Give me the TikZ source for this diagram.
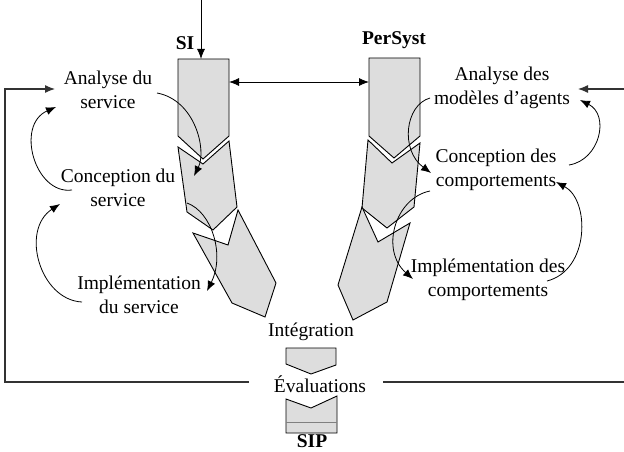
\documentclass[tikz,border=0pt]{standalone}
\usepackage{fontspec}
\setmainfont{Liberation Serif}
\usetikzlibrary{arrows.meta,positioning}
\definecolor{blockfill}{RGB}{221,221,221}

\begin{document}
\begin{tikzpicture}[x=1pt,y=-1pt,>={Latex[length=10pt,width=8pt]},
 font=\fontsize{19.5}{24}\selectfont,
 lbl/.style={align=center,inner sep=0pt},
 ttl/.style={inner sep=0pt,font=\fontsize{19.5}{24}\selectfont\bfseries},
 block/.style={draw,fill=blockfill,line width=0.9pt},
 flow/.style={->,line width=0.8pt},
 loopback/.style={->,line width=1.2pt,draw=black!80}]
\useasboundingbox (0,0) rectangle (624,452);

% SI column
\draw[block] (178,59) -- (229,59) -- (229,136) -- (203,159) -- (178,136) -- cycle;
\draw[block] (178,147) -- (203,164) -- (229,141) -- (237,207) -- (213,230) -- (187,212) -- cycle;
\draw[block] (193,233) -- (228,245) -- (238,210) -- (276,283) -- (265,317) -- (232,303) -- cycle;
% PerSyst column
\draw[block] (369,58) -- (420,58) -- (420,136) -- (394,158) -- (369,136) -- cycle;
\draw[block] (368,140) -- (392,163) -- (420,143) -- (414,207) -- (387,228) -- (362,208) -- cycle;
\draw[block] (362,207) -- (378,242) -- (410,223) -- (387,302) -- (353,320) -- (338,285) -- cycle;
% integration and SIP
\draw[block] (286,348) -- (336,348) -- (336,365) -- (311,374) -- (286,364) -- cycle;
\draw[block] (286,399) -- (311,408) -- (337,396) -- (337,433) -- (286,433) -- cycle;
\draw[gray,line width=0.9pt] (286,422) -- (337,422);

\coordinate (in) at (201,0);
\coordinate (siTop) at (201,59);
\coordinate (siR) at (229,82);
\coordinate (psL) at (369,82);

\node[ttl] (si) at (185,43) {SI};
\node[ttl] (persyst) at (394,40) {PerSyst};
\node[lbl] (ana1) at (108,90) {Analyse du\\service};
\node[lbl] (con1) at (118,188) {Conception du\\service};
\node[lbl] (imp1) at (139,295) {Implémentation\\du service};
\node[lbl] (ana2) at (502,88) {Analyse des\\modèles d’agents};
\node[lbl] (con2) at (496,170) {Conception des\\comportements};
\node[lbl] (imp2) at (488,280) {Implémentation des\\comportements};
\node[lbl] (integ) at (311,332) {Intégration};
\node[lbl] (eval) at (320,384) {Évaluations};
\node[ttl] (sip) at (312,441) {SIP};

\draw[flow] (in) -- (siTop);
\draw[flow,<->] (siR) -- (psL);

% iterations, left
\draw[flow] (157,93) .. controls (195,100) and (207,150) .. (194,176);
\draw[flow] (72,190) .. controls (35,195) and (15,125) .. (56,107);
\draw[flow] (187,203) .. controls (212,212) and (225,255) .. (207,291);
\draw[flow] (82,302) .. controls (40,300) and (20,230) .. (60,204);
% iterations, right
\draw[flow] (430,98) .. controls (405,105) and (400,150) .. (431,173);
\draw[flow] (569,165) .. controls (600,160) and (610,115) .. (580,100);
\draw[flow] (430,191) .. controls (395,198) and (380,250) .. (413,279);
\draw[flow] (547,281) .. controls (590,270) and (590,200) .. (556,182);

% evaluation loops
\coordinate (fbL) at (249,382);
\coordinate (fbR) at (383,382);
\draw[loopback] (fbL) -- (5,382) -- (5,89) -- (55,89);
\draw[loopback] (fbR) -- (627,382) -- (627,89) -- (578,89);
\end{tikzpicture}
\end{document}
